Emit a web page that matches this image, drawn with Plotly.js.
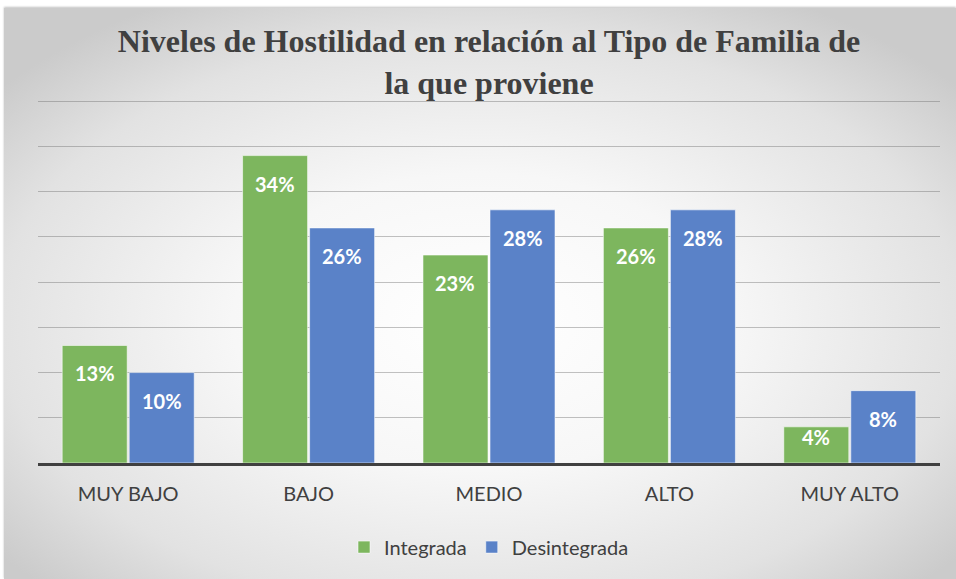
<!DOCTYPE html>
<html>
<head>
<meta charset="utf-8">
<script src="https://cdn.plot.ly/plotly-3.0.1.min.js"></script>
<style>
  html, body { margin: 0; padding: 0; width: 956px; height: 579px; background: #ffffff; overflow: hidden; }
  #bg { position: absolute; left: 4px; top: 8px; width: 952px; height: 571px;
        background: radial-gradient(ellipse 65% 65% at 50% 55%, #ffffff 0%, #f7f7f7 40%, #e2e2e2 78%, #cbcbcb 100%);
        box-shadow: 0 -1px 2px rgba(0,0,0,0.25); }
  #chart { position: absolute; left: 0; top: 0; width: 956px; height: 579px; }
</style>
</head>
<body>
<div id="bg"></div>
<div id="chart"></div>
<script>
const categories = ['MUY BAJO', 'BAJO', 'MEDIO', 'ALTO', 'MUY ALTO'];
const integrada = [13, 34, 23, 26, 4];
const desintegrada = [10, 26, 28, 28, 8];
const seriesNames = ['Integrada', 'Desintegrada'];
const colors = ['#7DB65E', '#5A82C8'];

const margin = {l: 38, r: 16, t: 100, b: 116};
const H = 579;
const yMax = 40;
const pxPer = (H - margin.t - margin.b) / yMax;
const catW = (956 - margin.l - margin.r) / categories.length;
const bargap = 0.257;
const groupOffset = catW * (1 - bargap) / 4;

function mkTrace(vals, name, color) {
  return {
    type: 'bar', x: categories, y: vals, name: name,
    marker: {color: color, line: {color: 'rgba(255,255,255,0.55)', width: 1}},
    hoverinfo: 'none'
  };
}

const annotations = [];
[integrada, desintegrada].forEach((vals, si) => {
  vals.forEach((v, i) => {
    const h = v * pxPer;
    const shift = Math.min(28, h - 26);
    annotations.push({
      x: categories[i], y: v, xref: 'x', yref: 'y',
      text: v + '%', showarrow: false,
      xshift: (si === 0 ? -1 : 1) * groupOffset,
      yshift: -shift,
      yanchor: 'middle',
      font: {family: 'Lato, "Open Sans", sans-serif', size: 20, color: '#ffffff', weight: 'bold'}
    });
  });
});

const layout = {
  width: 956, height: 579,
  margin: margin,
  paper_bgcolor: 'rgba(0,0,0,0)',
  plot_bgcolor: 'rgba(0,0,0,0)',
  barmode: 'group', bargap: bargap, bargroupgap: 0.03,
  title: {
    text: '<b>Niveles de Hostilidad en relación al Tipo de Familia de<br>la que proviene</b>',
    font: {family: '"Liberation Serif", "Times New Roman", serif', size: 32, color: '#404040'},
    x: 0.5, xanchor: 'center', xref: 'paper', y: 0.91, yanchor: 'top', yref: 'container'
  },
  xaxis: {
    showline: true, linecolor: '#404040', linewidth: 3,
    ticks: '', showgrid: false,
    tickfont: {family: 'Lato, "Open Sans", sans-serif', size: 20, color: '#404040'},
    ticklabelstandoff: 11
  },
  yaxis: {
    range: [0, yMax + 0.15], dtick: 5, showticklabels: false, zeroline: false,
    showgrid: true, gridcolor: 'rgba(110,110,110,0.42)', gridwidth: 1, ticks: ''
  },
  showlegend: true,
  legend: {
    orientation: 'h', x: 0.5, xanchor: 'center', y: -0.178, yanchor: 'top',
    font: {family: 'Lato, "Open Sans", sans-serif', size: 20, color: '#404040'},
    itemwidth: 30, bgcolor: 'rgba(0,0,0,0)'
  },
  annotations: annotations
};

Plotly.newPlot('chart', [mkTrace(integrada, seriesNames[0], colors[0]), mkTrace(desintegrada, seriesNames[1], colors[1])], layout, {staticPlot: true, displayModeBar: false});
</script>
</body>
</html>
